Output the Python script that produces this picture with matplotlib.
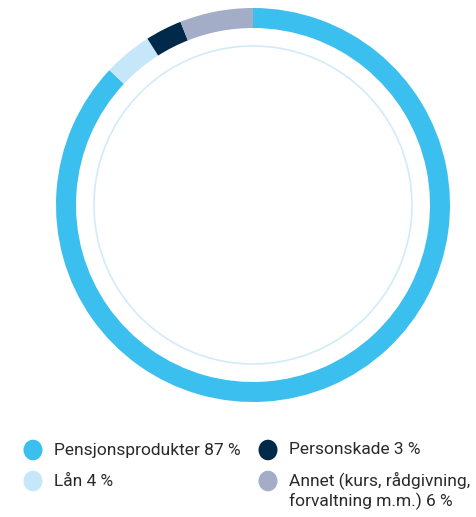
import matplotlib
matplotlib.use("Agg")
import matplotlib.pyplot as plt
from matplotlib.patches import Circle

categories = ["Pensjonsprodukter", "Lån", "Personskade", "Annet (kurs, rådgivning,\nforvaltning m.m.)"]
shares = [87, 4, 3, 6]
colors = ["#3bbfef", "#c6e6f9", "#00294a", "#a3adc7"]

W, H = 477, 517
fig = plt.figure(figsize=(W / 100, H / 100), dpi=100)
fig.patch.set_facecolor("white")

# donut ring with a thin inner guide circle
cx, cy, R = 253, 205, 197
ax = fig.add_axes([(cx - R) / W, (H - cy - R) / H, 2 * R / W, 2 * R / H])
ax.pie(shares, colors=colors, startangle=90, counterclock=False, radius=1.0,
       wedgeprops=dict(width=20 / R, linewidth=0))
ax.add_patch(Circle((0, 0), 159 / R, fill=False, edgecolor="#d3ebf9", linewidth=1.2))
ax.set_xlim(-1, 1)
ax.set_ylim(-1, 1)
ax.set_aspect("equal")
ax.axis("off")

# legend: two columns, placed in pixel coordinates
font = dict(family=["Roboto", "DejaVu Sans"], fontsize=12.5, color="#2a2a2a")
slots = [(33, 450), (33, 481), (268, 450), (268, 481)]
for (mx, my), name, val, col in zip(slots, categories, shares, colors):
    fig.patches.append(Circle((mx / W, 1 - my / H), 9.5 / W, transform=fig.transFigure,
                              facecolor=col, edgecolor="none"))
    label = f"{name} {val} %"
    if "\n" in name:
        fig.text((mx + 21) / W, 1 - (my - 10) / H, label, va="top", ha="left",
                 linespacing=1.3, **font)
    else:
        fig.text((mx + 21) / W, 1 - my / H, label, va="center", ha="left", **font)

fig.savefig("out.png", dpi=100, facecolor="white")
